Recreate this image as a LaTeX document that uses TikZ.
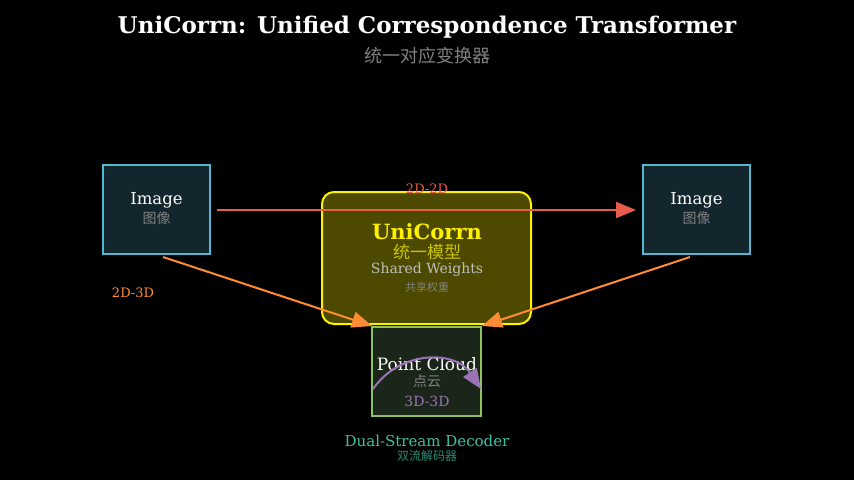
\documentclass[tikz,border=0pt]{standalone}
\usepackage{fontspec}
\setmainfont{DejaVu Serif}
\newfontfamily\cjk{Noto Sans CJK SC}
\usetikzlibrary{arrows.meta}
\definecolor{cyb}{RGB}{80,185,210}
\definecolor{redc}{RGB}{232,92,75}
\definecolor{orc}{RGB}{255,140,50}
\definecolor{purc}{RGB}{155,115,180}
\begin{document}
\begin{tikzpicture}[x=1pt,y=-1pt,
  imgbox/.style={draw=cyb,line width=2pt,fill={rgb,255:red,19;green,38;blue,46},minimum width=107pt,minimum height=89pt},
  arr/.style={line width=2pt,-{Triangle[length=20pt,width=16pt]}},
  txt/.style={inner sep=0pt}]
\fill[black] (0,0) rectangle (854,480);
\node[txt,white,font=\bfseries\fontsize{23}{26}\selectfont] (title) at (427,27) {UniCorrn: Unified Correspondence Transformer};
\node[txt,gray,font=\cjk\fontsize{18}{20}\selectfont] (sub) at (427,56) {统一对应变换器};
\node[imgbox] (L) at (156.5,209.5) {};
\node[imgbox] (R) at (696.5,209.5) {};
\foreach \n in {L,R}{
  \node[txt,white,font=\fontsize{16.5}{18}\selectfont] at ([yshift=9pt]\n.center) {Image};
  \node[txt,gray,font=\cjk\fontsize{14}{16}\selectfont] at ([yshift=-9pt]\n.center) {图像};
}
\node[draw=yellow,line width=2pt,fill={rgb,255:red,77;green,74;blue,0},rounded corners=12pt,minimum width=209pt,minimum height=132pt] (U) at (426.5,258) {};
\node[txt,yellow,font=\bfseries\fontsize{21}{23}\selectfont] at (427,232) {UniCorrn};
\node[txt,text={rgb,255:red,200;green,196;blue,0},font=\cjk\fontsize{17}{19}\selectfont] at (427,252) {统一模型};
\node[txt,lightgray,font=\fontsize{14}{16}\selectfont] at (427,270) {Shared Weights};
\node[txt,gray,font=\cjk\fontsize{11}{13}\selectfont] at (427,287) {共享权重};
\node[draw={rgb,255:red,140;green,195;blue,95},line width=2pt,fill={rgb,255:red,26;green,38;blue,26},minimum width=109pt,minimum height=89pt] (P) at (426.5,371.5) {};
\node[txt,white,font=\fontsize{17}{19}\selectfont] at (427,364) {Point Cloud};
\node[txt,gray,font=\cjk\fontsize{14}{16}\selectfont] at (427,381) {点云};
\node[txt,purc,font=\fontsize{14}{16}\selectfont] at (427,401) {3D-3D};
\coordinate (a1) at (217,210); \coordinate (a2) at (636,210);
\draw[arr,redc] (a1) -- (a2);
\node[txt,redc,font=\fontsize{13}{15}\selectfont] at (427,189) {2D-2D};
\coordinate (b1) at (163,257); \coordinate (b2) at (372,326);
\coordinate (c1) at (690,257); \coordinate (c2) at (482,326);
\draw[arr,orc] (b1) -- (b2);
\draw[arr,orc] (c1) -- (c2);
\node[txt,orc,font=\fontsize{13}{15}\selectfont] at (133,293) {2D-3D};
\coordinate (d1) at (373,389); \coordinate (d2) at (481,389);
\draw[arr,purc] (d1) .. controls (400,350) and (455,350) .. (d2);
\node[txt,text={rgb,255:red,64;green,192;blue,160},font=\fontsize{15}{17}\selectfont] at (427,441) {Dual-Stream Decoder};
\node[txt,text={rgb,255:red,40;green,140;blue,115},font=\cjk\fontsize{12}{14}\selectfont] at (427,456) {双流解码器};
\end{tikzpicture}
\end{document}
